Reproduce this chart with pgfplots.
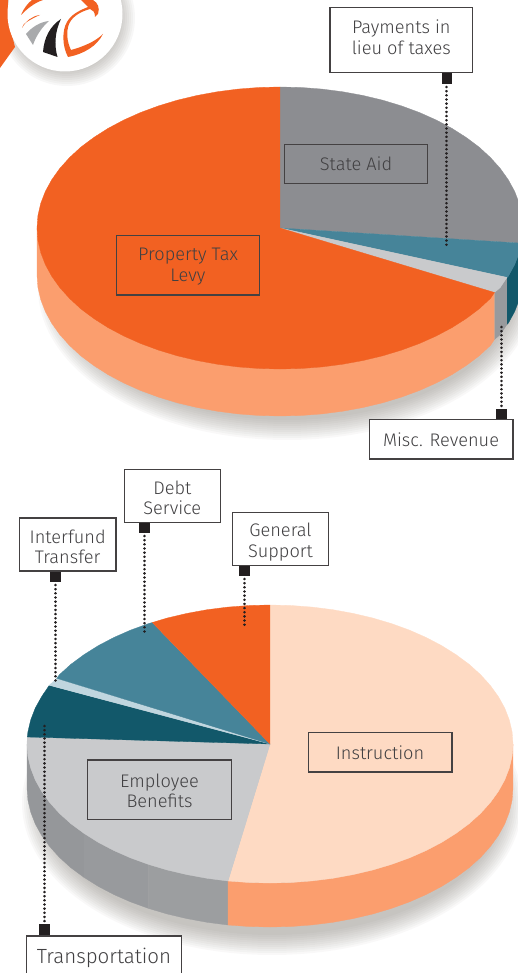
\documentclass[border=0pt]{standalone}
\usepackage{fontspec}
\setmainfont{Fira Sans}[UprightFont=* Light]
\usepackage{pgfplots}
\pgfplotsset{compat=1.18}
\definecolor{orng}{HTML}{F26122}
\definecolor{orngside}{HTML}{FB9E6E}
\definecolor{gry}{HTML}{8C8D91}
\definecolor{gryside}{HTML}{989A9D}
\definecolor{grysideA}{HTML}{9C9EA0}
\definecolor{grysideB}{HTML}{95979A}
\definecolor{lgry}{HTML}{C9CACC}
\definecolor{teal1}{HTML}{468499}
\definecolor{teal2}{HTML}{12586A}
\definecolor{peach}{HTML}{FEDAC3}
\definecolor{lblue}{HTML}{C0D6DF}
\definecolor{blk}{HTML}{231F20}
\definecolor{txt}{HTML}{414042}
\definecolor{shad}{HTML}{6B655C}
\newcommand{\lbl}[3]{\node[align=center,text=txt,font=\fontsize{#3}{20.5}\selectfont,inner sep=0pt] at (axis cs:#1) {#2};}
\tikzset{dots/.style={blk,line width=2.7pt,line cap=round,dash pattern=on 0.05pt off 4.1pt}}
\begin{document}
\begin{tikzpicture}[x=1pt,y=1pt]
\useasboundingbox (0,0) rectangle (518,973);
\clip (0,0) rectangle (518,973);
\begin{scope}[y=-1pt,yshift=973pt]
% soft shadows
\foreach \i in {0,2,...,20}{
 \fill[shad,opacity=.045] (287,288) ellipse [x radius=229+\i pt,y radius=132+\i pt];
 \fill[shad,opacity=.045] (272,803) ellipse [x radius=230+\i pt,y radius=132+\i pt];
}
\foreach \i in {0,2,...,16}{
 \fill[shad,opacity=.05] (67,18) circle [radius=52+\i pt];
}
% logo
\fill[orng] (0,68)--(15,47)--(8,20)--(8,0)--(0,0)--cycle;
\fill[white] (65,14) circle [radius=57.5pt];
\fill[orng] (81,0)--(93,0) .. controls (98,3) and (100,8) .. (98,14) -- (95,17) .. controls (95,12) and (93,10) .. (90,9) .. controls (83,11) and (73,15) .. (69,24) .. controls (66,32) and (67,42) .. (71,50) .. controls (82,47) and (95,42) .. (103,34) .. controls (97,46) and (84,54) .. (68,57) .. controls (62,46) and (62,30) .. (67,22) .. controls (71,15) and (78,11) .. (88,7) -- cycle;
\fill[blk] (43,52) .. controls (44,38) and (50,26) .. (61,19) .. controls (55,31) and (54,45) .. (57.5,57) -- cycle;
\fill[gry!75] (26,34) .. controls (32,27) and (40,22) .. (49,21) .. controls (42,27) and (36,36) .. (33,45) -- cycle;
\fill[orng] (21,15) .. controls (24,8) and (28,3) .. (32,0) -- (43,0) .. controls (34,3) and (27,9) .. (21,15) -- cycle;
\fill[orng] (22,28) .. controls (26,21) and (32,16) .. (40,15) .. controls (33,18) and (28,21) .. (24,24) -- cycle;
\end{scope}
\begin{axis}[at={(0,0)},anchor=south west,x=1pt,y=1pt,xmin=0,xmax=518,ymin=0,ymax=973,y dir=reverse,hide axis,clip=true]
% ---- top pie: sides
\addplot[fill=orngside,draw=orngside,line width=.3pt,no markers,forget plot] coordinates {(494.5,292.5)(490.4,298.5)(479.1,308.9)(466.1,318.6)(451.8,327.7)(436.2,336.0)(419.4,343.5)(401.5,350.1)(382.7,355.8)(363.1,360.5)(342.9,364.2)(322.2,366.9)(301.2,368.5)(280,369)(258.8,368.5)(237.8,366.9)(217.1,364.2)(196.9,360.5)(177.3,355.8)(158.5,350.1)(140.6,343.5)(123.8,336.0)(108.2,327.7)(93.9,318.6)(80.9,308.9)(69.6,298.5)(59.8,287.6)(51.7,276.2)(45.3,264.5)(40.7,252.5)(37.9,240.3)(37,228)(37,275)(37.9,287.3)(40.7,299.5)(45.3,311.5)(51.7,323.2)(59.8,334.6)(69.6,345.5)(80.9,355.9)(93.9,365.6)(108.2,374.7)(123.8,383)(140.6,390.5)(158.5,397.1)(177.3,402.8)(196.9,407.5)(217.1,411.2)(237.8,413.9)(258.8,415.5)(280,416)(301.2,415.5)(322.2,413.9)(342.9,411.2)(363.1,407.5)(382.7,402.8)(401.5,397.1)(419.4,390.5)(436.2,383)(451.8,374.7)(466.1,365.6)(479.1,355.9)(490.4,345.5)(494.5,339.5)};
\addplot[fill=gryside,draw=gryside,line width=.3pt,no markers,forget plot] coordinates {(494.5,292.5)(500.2,287.6)(507,277.4)(507,324.4)(500.2,334.6)(494.5,339.5)};
\addplot[fill=teal2,draw=teal2,line width=.3pt,no markers,forget plot] coordinates {(507,277.4)(508.3,276.2)(514.7,264.5)(519.3,252.5)(522.1,240.3)(523,228)(523,275)(522.1,287.3)(519.3,299.5)(514.7,311.5)(508.3,323.2)(507,324.4)};
% ---- top pie: faces
\addplot[fill=gry,draw=gry,line width=.3pt,no markers,forget plot] coordinates {(280,228)(280,87)(301.2,87.5)(322.2,89.1)(342.9,91.8)(363.1,95.5)(382.7,100.2)(401.5,105.9)(419.4,112.5)(436.2,120.0)(451.8,128.3)(466.1,137.4)(479.1,147.1)(490.4,157.5)(500.2,168.4)(508.3,179.8)(514.7,191.5)(519.3,203.5)(522.1,215.7)(523,228)(522.1,240.3)(521.6,243.2)};
\addplot[fill=teal1,draw=teal1,line width=.3pt,no markers,forget plot] coordinates {(280,228)(521.6,243.2)(519.3,252.5)(514.7,264.5)(508.3,276.2)(507,277.4)};
\addplot[fill=lgry,draw=lgry,line width=.3pt,no markers,forget plot] coordinates {(280,228)(507,277.4)(500.2,287.6)(494.5,292.5)};
\addplot[fill=orng,draw=orng,line width=.3pt,no markers,forget plot] coordinates {(280,228)(494.5,292.5)(490.4,298.5)(479.1,308.9)(466.1,318.6)(451.8,327.7)(436.2,336.0)(419.4,343.5)(401.5,350.1)(382.7,355.8)(363.1,360.5)(342.9,364.2)(322.2,366.9)(301.2,368.5)(280,369)(258.8,368.5)(237.8,366.9)(217.1,364.2)(196.9,360.5)(177.3,355.8)(158.5,350.1)(140.6,343.5)(123.8,336.0)(108.2,327.7)(93.9,318.6)(80.9,308.9)(69.6,298.5)(59.8,287.6)(51.7,276.2)(45.3,264.5)(40.7,252.5)(37.9,240.3)(37,228)(37.9,215.7)(40.7,203.5)(45.3,191.5)(51.7,179.8)(59.8,168.4)(69.6,157.5)(80.9,147.1)(93.9,137.4)(108.2,128.3)(123.8,120.0)(140.6,112.5)(158.5,105.9)(177.3,100.2)(196.9,95.5)(217.1,91.8)(237.8,89.1)(258.8,87.5)(280,87)};
% ---- bottom pie: sides (grey in three slightly different bands)
\addplot[fill=grysideA,draw=grysideA,line width=.3pt,no markers,forget plot] coordinates {(228,881)(207.1,878.3)(186.9,874.6)(167.3,870)(148.5,864.4)(148.5,908.4)(167.3,914)(186.9,918.6)(207.1,922.3)(228,925)};
\addplot[fill=gryside,draw=gryside,line width=.3pt,no markers,forget plot] coordinates {(148.5,864.4)(130.6,857.9)(113.8,850.5)(98.2,842.3)(83.9,833.3)(83.9,877.3)(98.2,886.3)(113.8,894.5)(130.6,901.9)(148.5,908.4)};
\addplot[fill=grysideB,draw=grysideB,line width=.3pt,no markers,forget plot] coordinates {(83.9,833.3)(70.9,823.7)(59.6,813.5)(49.8,802.7)(41.7,791.5)(35.3,780)(30.7,768.1)(27.9,756.1)(27,744)(27,788)(27.9,800.1)(30.7,812.1)(35.3,824)(41.7,835.5)(49.8,846.7)(59.6,857.5)(70.9,867.7)(83.9,877.3)};
\addplot[fill=orngside,draw=orngside,line width=.3pt,no markers,forget plot] coordinates {(513,744)(512.1,756.1)(509.3,768.1)(504.7,780)(498.3,791.5)(490.2,802.7)(480.4,813.5)(469.1,823.7)(456.1,833.3)(441.8,842.3)(426.2,850.5)(409.4,857.9)(391.5,864.4)(372.7,870)(353.1,874.6)(332.9,878.3)(312.2,880.9)(291.2,882.5)(270,883)(248.8,882.5)(228,881)(228,925)(248.8,926.5)(270,927)(291.2,926.5)(312.2,924.9)(332.9,922.3)(353.1,918.6)(372.7,914)(391.5,908.4)(409.4,901.9)(426.2,894.5)(441.8,886.3)(456.1,877.3)(469.1,867.7)(480.4,857.5)(490.2,846.7)(498.3,835.5)(504.7,824)(509.3,812.1)(512.1,800.1)(513,788)};
% ---- bottom pie: faces
\addplot[fill=peach,draw=peach,line width=.3pt,no markers,forget plot] coordinates {(270,744)(270,605)(291.2,605.5)(312.2,607.1)(332.9,609.7)(353.1,613.4)(372.7,618)(391.5,623.6)(409.4,630.1)(426.2,637.5)(441.8,645.7)(456.1,654.7)(469.1,664.3)(480.4,674.5)(490.2,685.3)(498.3,696.5)(504.7,708)(509.3,719.9)(512.1,731.9)(513,744)(512.1,756.1)(509.3,768.1)(504.7,780)(498.3,791.5)(490.2,802.7)(480.4,813.5)(469.1,823.7)(456.1,833.3)(441.8,842.3)(426.2,850.5)(409.4,857.9)(391.5,864.4)(372.7,870)(353.1,874.6)(332.9,878.3)(312.2,880.9)(291.2,882.5)(270,883)(248.8,882.5)(228,881)};
\addplot[fill=lgry,draw=lgry,line width=.3pt,no markers,forget plot] coordinates {(270,744)(228,881)(207.1,878.3)(186.9,874.6)(167.3,870)(148.5,864.4)(130.6,857.9)(113.8,850.5)(98.2,842.3)(83.9,833.3)(70.9,823.7)(59.6,813.5)(49.8,802.7)(41.7,791.5)(35.3,780)(30.7,768.1)(27.9,756.1)(27,744)(27.3,737)};
\addplot[fill=teal2,draw=teal2,line width=.3pt,no markers,forget plot] coordinates {(270,744)(27.3,737)(27.9,731.9)(30.7,719.9)(35.3,708)(41.7,696.5)(49.3,685.3)};
\addplot[fill=lblue,draw=lblue,line width=.3pt,no markers,forget plot] coordinates {(270,744)(49.3,685.3)(56.7,678.3)};
\addplot[fill=teal1,draw=teal1,line width=.3pt,no markers,forget plot] coordinates {(270,744)(56.7,678.3)(59.6,674.5)(70.9,664.3)(83.9,654.7)(98.2,645.7)(113.8,637.5)(130.6,630.1)(148.5,623.6)(152.3,622.5)};
\addplot[fill=orng,draw=orng,line width=.3pt,no markers,forget plot] coordinates {(270,744)(152.3,622.5)(167.3,618)(186.9,613.4)(207.1,609.7)(227.8,607.1)(248.8,605.5)(270,605)};
% ---- leaders
\pgfplotsset{every axis plot/.append style={no markers,forget plot}}
\addplot[dots] coordinates {(446.5,87)(446.5,248)};
\addplot[dots] coordinates {(501.3,327)(501.3,409)};
\addplot[dots] coordinates {(55.3,585)(55.3,684)};
\addplot[dots] coordinates {(144.8,536)(144.8,635)};
\addplot[dots] coordinates {(244.7,579)(244.7,627)};
\addplot[dots] coordinates {(44.6,726)(44.6,924)};
% ---- squares
\addplot[fill=blk,draw=none] coordinates {(441.5,73)(451.7,73)(451.7,84)(441.5,84)};
\addplot[fill=blk,draw=none] coordinates {(496,409)(507,409)(507,420)(496,420)};
\addplot[fill=blk,draw=none] coordinates {(50,571)(61,571)(61,582)(50,582)};
\addplot[fill=blk,draw=none] coordinates {(139,522)(150,522)(150,533)(139,533)};
\addplot[fill=blk,draw=none] coordinates {(239,565)(250,565)(250,576)(239,576)};
\addplot[fill=blk,draw=none] coordinates {(39,924)(50,924)(50,936)(39,936)};
% ---- boxes
\draw[blk!85,line width=1.3pt,fill=white] (axis cs:330,7.5) rectangle (axis cs:472.7,72.7);
\draw[blk!85,line width=1.3pt] (axis cs:284.3,144.3) rectangle (axis cs:427.7,183.7);
\draw[blk!85,line width=1.3pt] (axis cs:116.3,235.5) rectangle (axis cs:259.3,295);
\draw[blk!85,line width=1.3pt,fill=white] (axis cs:369.5,419.7) rectangle (axis cs:513,459);
\draw[blk!85,line width=1.3pt,fill=white] (axis cs:19.5,518) rectangle (axis cs:116,571);
\draw[blk!85,line width=1.3pt,fill=white] (axis cs:124.3,469.7) rectangle (axis cs:220.3,522.3);
\draw[blk!85,line width=1.3pt,fill=white] (axis cs:232.3,512.7) rectangle (axis cs:328.7,565.7);
\draw[blk!85,line width=1.3pt] (axis cs:308.3,732.7) rectangle (axis cs:452,772);
\draw[blk!85,line width=1.3pt] (axis cs:87.7,760) rectangle (axis cs:231.3,819.7);
\draw[blk!85,line width=1.3pt,fill=white] (axis cs:26.7,936) rectangle (axis cs:181.7,980);
% ---- texts
\lbl{401.3,37.5}{Payments in\\[0pt]lieu of taxes}{18.2}
\lbl{356,164}{State Aid}{18.2}
\lbl{188,266.5}{Property Tax\\[0pt]Levy}{18.2}
\lbl{441,440}{Misc. Revenue}{18.2}
\lbl{67.7,547}{Interfund\\[0pt]Transfer}{18.2}
\lbl{172.3,498}{Debt\\[0pt]Service}{18.2}
\lbl{280.5,542}{General\\[0pt]Support}{18.2}
\lbl{380,752.5}{Instruction}{18.2}
\lbl{159.5,791}{Employee\\[0pt]Benefits}{18.2}
\lbl{104,958}{Transportation}{20.5}
\end{axis}
\end{tikzpicture}
\end{document}
